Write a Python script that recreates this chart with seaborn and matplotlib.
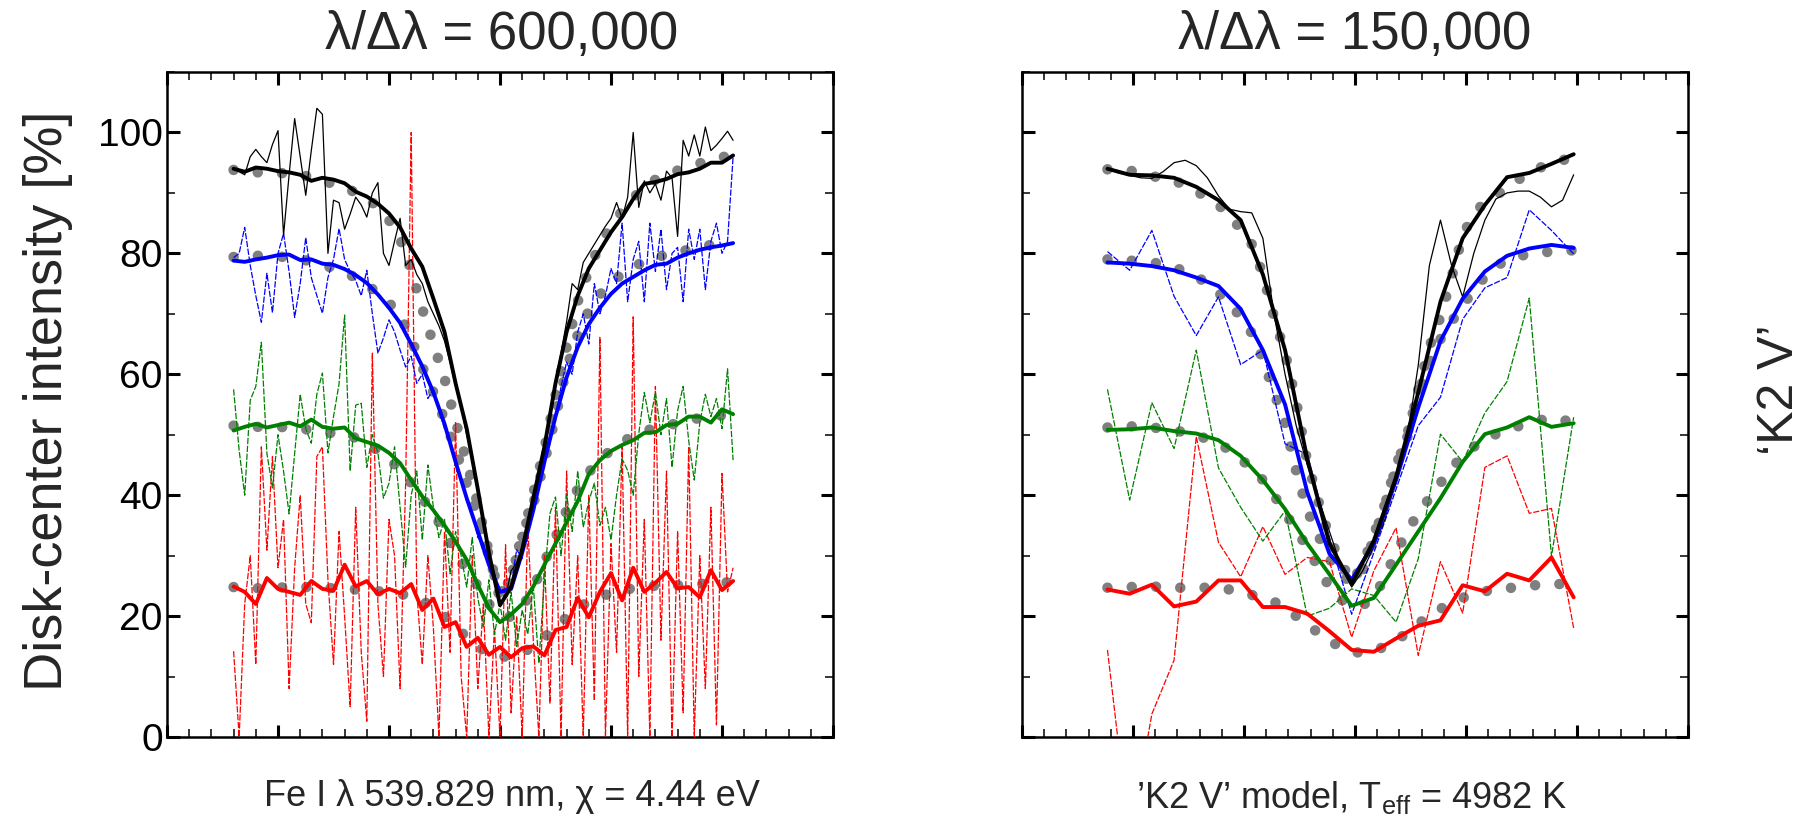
import numpy as np
import matplotlib
matplotlib.use("Agg")
import matplotlib.pyplot as plt
import seaborn as sns
from matplotlib.ticker import MultipleLocator

sns.set_theme(style="ticks")
plt.rcParams["font.family"] = ["Liberation Sans", "DejaVu Sans"]
plt.rcParams["mathtext.fontset"] = "custom"
plt.rcParams["mathtext.rm"] = "Liberation Sans"
plt.rcParams["mathtext.it"] = "Liberation Sans:italic"

# ---------------- left panel: lambda/dlambda = 600,000 ----------------
x_model_l = np.arange(-24.0, 21.01, 1.0)
x_thick_l = np.arange(-24.0, 21.01, 1.0)
x_thin_l = np.arange(-24.0, 21.01, 0.5)

model_black_l = [93.8, 93.6, 93.4, 93.4, 93.3, 93.2, 93.0, 92.6, 92.0, 91.5, 90.8, 90.1, 89.2, 87.6, 85.5, 82.4,
                 77.2, 70.8, 65.0, 59.3, 52.2, 45.5, 38.5, 30.5, 22.8, 26.5, 33.0, 40.3, 47.7, 56.5, 64.5, 72.0,
                 77.2, 81.5, 84.5, 87.0, 89.2, 90.8, 92.2, 93.0, 93.7, 94.3, 94.9, 95.4, 95.9, 96.3]
model_blue_l = [79.4, 79.5, 79.6, 79.6, 79.5, 79.3, 79.0, 78.7, 78.2, 77.5, 76.8, 76.0, 74.8, 73.4, 71.8, 69.8,
                65.8, 61.2, 57.0, 52.5, 47.5, 42.0, 36.5, 30.0, 23.5, 26.5, 33.5, 38.5, 45.5, 53.0, 61.0, 66.5,
                70.5, 73.2, 75.0, 76.7, 77.8, 78.6, 79.3, 79.8, 80.2, 80.6, 81.0, 81.4, 81.7, 82.0]
model_green_l = [51.5, 51.4, 51.3, 51.3, 51.3, 51.2, 51.0, 50.8, 50.5, 50.2, 49.9, 49.5, 48.6, 47.4, 45.9, 44.3,
                 42.0, 39.5, 37.0, 34.0, 30.5, 27.5, 25.0, 22.0, 20.3, 19.8, 21.5, 24.5, 29.0, 33.0, 37.5, 41.0,
                 43.8, 45.8, 47.5, 48.8, 49.8, 50.6, 51.1, 51.5, 51.9, 52.3, 52.8, 53.0, 53.2, 53.3]
model_red_l = [24.8, 24.7, 24.6, 24.6, 24.7, 24.8, 24.8, 24.8, 24.7, 24.6, 24.5, 24.4, 24.3, 24.1, 24.0, 23.7,
               23.2, 22.5, 21.5, 20.0, 18.2, 16.5, 14.9, 13.9, 13.3, 13.3, 13.9, 15.0, 16.5, 18.0, 19.8, 21.3,
               22.4, 23.2, 23.8, 24.3, 24.6, 24.9, 25.0, 25.1, 25.1, 25.2, 25.3, 25.4, 25.5, 25.7]

thick_black_l = [94.0, 93.5, 94.2, 94.0, 93.6, 93.4, 93.0, 92.0, 92.5, 92.2, 91.6, 90.2, 89.4, 88.2, 86.6, 84.3,
                 80.8, 77.8, 72.5, 67.0, 58.5, 51.0, 41.0, 30.5, 21.8, 24.8, 31.0, 39.5, 48.0, 58.5, 67.0, 73.0,
                 77.5, 80.5, 83.5, 86.0, 89.0, 91.5, 91.8, 92.3, 93.1, 93.4, 94.0, 95.0, 95.0, 96.2]
thick_blue_l = [78.8, 78.6, 79.0, 79.3, 79.7, 79.8, 78.9, 79.0, 78.3, 78.1, 77.4, 76.4, 75.1, 73.2, 71.0, 68.5,
                65.0, 61.3, 57.0, 51.8, 45.5, 39.5, 34.0, 28.5, 24.0, 24.5, 30.5, 37.5, 45.5, 53.0, 59.5, 64.5,
                68.3, 71.0, 73.3, 75.0, 76.1, 77.2, 78.1, 78.3, 79.3, 80.0, 80.6, 81.0, 81.3, 81.7]
thick_green_l = [50.7, 51.3, 51.8, 51.2, 51.6, 52.0, 51.4, 52.5, 51.3, 51.0, 51.2, 49.4, 48.8, 48.2, 47.0, 45.3,
                 42.5, 39.8, 37.5, 35.0, 32.3, 29.3, 25.2, 21.3, 19.0, 20.3, 22.0, 24.9, 28.5, 32.0, 35.5, 39.0,
                 43.5, 45.8, 47.3, 48.3, 49.1, 50.3, 50.4, 51.6, 51.8, 53.0, 53.0, 52.0, 54.2, 53.4]
thick_red_l = [24.9, 24.0, 22.0, 26.3, 24.5, 24.0, 23.5, 25.8, 24.5, 24.2, 28.5, 24.9, 25.8, 23.6, 24.5, 23.8,
               25.3, 21.0, 22.9, 18.2, 19.0, 14.9, 16.4, 13.6, 14.9, 13.2, 14.7, 15.0, 13.5, 17.7, 18.2, 23.0,
               19.8, 24.0, 27.1, 22.6, 28.0, 24.0, 25.5, 27.3, 24.6, 24.8, 23.1, 27.6, 24.3, 25.8]

thin_black_l = [94.0, 93.5, 93.0, 96.0, 97.2, 96.0, 95.0, 98.0, 100.3, 83.0,
                93.0, 102.3, 96.0, 89.6, 97.0, 104.0, 103.0, 80.0, 88.8, 88.4,
                84.0, 86.5, 89.3, 88.0, 86.0, 90.0, 91.7, 80.0, 78.0, 82.0,
                85.8, 78.0, 79.0, 76.5, 75.0, 72.0, 70.0, 68.0, 65.5, 62.0,
                58.0, 54.5, 50.0, 46.0, 40.5, 35.5, 30.5, 25.5, 22.0, 23.0,
                27.5, 28.8, 31.5, 35.0, 39.0, 43.5, 48.5, 53.5, 59.0, 63.5,
                68.7, 75.0, 74.0, 78.5, 80.0, 81.5, 83.0, 84.5, 85.8, 88.4,
                85.8, 89.3, 100.0, 87.6, 92.0, 90.0, 91.5, 88.8, 93.6, 92.5,
                82.8, 98.7, 96.1, 99.6, 96.1, 100.9, 97.0, 97.9, 99.0, 100.2,
                98.7]
thin_blue_l = [79.3, 80.0, 84.3, 78.0, 73.0, 68.6, 76.7, 70.2, 80.0, 83.3,
               77.0, 69.4, 75.0, 82.6, 76.0, 73.0, 70.1, 76.0, 79.0, 84.1,
               79.0, 77.0, 75.5, 73.0, 77.2, 70.0, 63.5, 66.0, 69.0, 67.0,
               64.0, 61.2, 63.0, 58.5, 60.0, 56.0, 57.5, 54.0, 51.0, 49.0,
               45.0, 43.0, 39.0, 37.0, 33.0, 32.0, 29.5, 27.0, 24.0, 24.5,
               25.0, 31.0, 29.5, 36.0, 40.0, 42.0, 46.0, 50.0, 52.5, 58.0,
               62.0, 60.0, 67.0, 70.0, 65.0, 75.0, 70.0, 73.0, 77.5, 75.0,
               85.0, 72.0, 79.0, 82.0, 72.0, 85.0, 77.0, 84.0, 74.0, 80.0,
               81.0, 72.0, 84.0, 79.0, 84.0, 74.0, 82.0, 85.0, 80.0, 82.0,
               96.0]
thin_green_l = [57.5, 47.4, 40.0, 55.7, 58.0, 65.3, 46.9, 41.2, 50.0, 44.0,
                36.9, 46.9, 56.7, 51.0, 48.6, 56.7, 60.2, 47.0, 53.0, 58.4,
                69.8, 44.0, 54.9, 55.2, 44.6, 50.0, 47.0, 39.5, 42.0, 48.0,
                38.0, 28.1, 40.0, 44.0, 32.6, 45.0, 38.0, 33.0, 36.0, 27.0,
                34.0, 30.0, 24.8, 33.0, 23.0, 18.2, 26.0, 17.0, 22.0, 16.0,
                24.0, 15.0, 21.0, 17.0, 25.0, 12.2, 26.0, 37.0, 39.7, 30.0,
                40.0, 34.0, 44.0, 34.7, 39.0, 42.0, 35.0, 38.0, 32.6, 40.0,
                46.0, 44.1, 40.0, 50.2, 57.0, 52.0, 57.0, 50.0, 56.0, 44.6,
                54.0, 58.0, 49.0, 42.5, 52.0, 56.7, 53.0, 56.0, 51.0, 60.9,
                45.8]
thin_red_l = [14.2, 0.0, 22.0, 30.0, 12.0, 48.0, 30.9, 46.4, 28.0, 36.0,
              8.0, 28.0, 40.0, 22.0, 18.9, 46.4, 48.0, 26.0, 12.0, 34.0,
              20.0, 5.0, 38.0, 14.0, 2.6, 63.5, 22.0, 10.0, 36.0, 30.0,
              8.0, 42.0, 100.0, 24.0, 12.0, 30.0, 18.0, 0.0, 34.0, 14.0,
              52.0, 10.0, 0.0, 30.0, 8.0, 22.0, 0.0, 18.0, 0.0, 31.8,
              4.0, 20.0, 0.0, 35.0, 16.0, 0.0, 30.0, 5.6, 38.0, 0.0,
              44.0, 12.0, 30.0, 0.0, 40.0, 6.0, 66.1, 0.0, 32.0, 14.0,
              48.0, 0.0, 69.5, 10.0, 36.0, 0.0, 58.0, 16.0, 44.0, 0.0,
              34.0, 4.0, 48.0, 0.0, 30.0, 8.0, 38.0, 2.0, 43.6, 24.0,
              28.0]

# ---------------- right panel: lambda/dlambda = 150,000 ----------------
x_model_r = np.arange(-22.3, 19.75, 1.0)
x_coarse_r = np.arange(-22.3, 19.75, 2.0)

model_black_r = [93.9, 93.8, 93.7, 93.3, 92.8, 92.4, 92.0, 91.3, 90.3, 89.2, 88.0, 86.3, 84.0, 81.5, 76.5,
                 69.5, 63.5, 55.5, 45.5, 39.0, 33.0, 29.0, 25.6, 28.5, 33.5, 38.5, 45.0, 49.5, 57.5, 64.5,
                 69.5, 76.0, 83.0, 86.5, 88.5, 89.6, 90.8, 92.2, 93.2, 94.2, 94.9, 95.4, 96.0]
model_blue_r = [79.0, 78.9, 78.8, 78.7, 78.5, 78.2, 77.7, 77.0, 76.2, 75.0, 73.5, 71.7, 69.5, 66.8, 62.5,
                57.0, 51.9, 44.0, 37.5, 33.3, 29.5, 26.8, 25.6, 27.5, 32.9, 38.5, 44.5, 50.0, 57.0, 62.0,
                65.8, 68.7, 71.3, 74.0, 76.1, 77.8, 79.0, 79.5, 79.9, 80.1, 80.3, 80.4, 80.5]
model_green_r = [51.2, 51.3, 51.4, 51.3, 51.2, 51.0, 50.7, 50.4, 49.9, 49.3, 48.5, 47.5, 46.0, 44.4, 42.5,
                 40.0, 37.0, 34.3, 31.3, 28.0, 24.8, 22.8, 21.7, 21.8, 23.0, 26.5, 30.5, 34.0, 37.0, 39.5,
                 42.0, 44.5, 46.5, 48.0, 49.2, 50.1, 50.8, 51.4, 51.9, 52.4, 52.8, 52.5, 51.9]
model_red_r = [24.7, 24.8, 24.8, 24.9, 24.9, 24.8, 24.7, 24.7, 24.7, 24.7, 24.6, 24.4, 24.0, 23.5, 23.0,
               22.4, 21.3, 20.0, 18.7, 17.2, 15.9, 14.9, 14.1, 13.9, 14.2, 15.0, 16.0, 17.2, 18.7, 20.1,
               21.2, 22.1, 23.0, 23.8, 24.1, 24.4, 24.6, 24.8, 25.0, 25.2, 25.3, 25.3, 25.3]

thick_black_r = [94.0, 93.0, 92.9, 92.5, 91.0, 88.8, 85.5, 76.5, 64.0, 46.0, 32.0, 25.3, 32.5, 43.0, 57.0,
                 72.0, 82.5, 88.0, 92.6, 93.3, 94.8, 96.4]
thick_blue_r = [78.5, 78.3, 77.9, 77.2, 76.0, 74.6, 70.8, 64.0, 55.0, 40.5, 30.3, 26.0, 32.0, 42.5, 54.5,
                65.5, 72.5, 77.0, 79.6, 80.8, 81.4, 80.9]
thick_green_r = [50.8, 50.9, 51.2, 50.6, 50.2, 49.1, 46.5, 42.5, 37.7, 32.0, 26.9, 21.7, 23.0, 28.5, 34.0,
                 39.5, 45.5, 50.1, 51.2, 52.9, 51.3, 51.9]
thick_red_r = [24.4, 23.7, 25.2, 21.6, 22.4, 25.9, 25.9, 21.5, 21.5, 20.4, 17.5, 14.4, 14.1, 16.3, 18.4,
               19.3, 25.1, 24.1, 27.0, 25.9, 29.7, 23.1]

thin_black_r = [94.0, 93.3, 92.9, 92.5, 92.4, 93.5, 95.0, 95.4, 94.5, 92.5, 89.5, 87.3, 86.9, 86.7, 82.5,
                70.0, 60.0, 51.5, 45.0, 39.5, 34.0, 28.5, 24.8, 27.5, 31.5, 36.0, 43.5, 49.5, 61.5, 78.0,
                85.5, 78.0, 72.8, 80.0, 85.5, 89.0, 90.0, 90.3, 90.3, 89.3, 87.7, 88.8, 93.0]
thin_blue_r = [80.3, 77.2, 83.8, 72.9, 66.4, 72.8, 61.6, 64.0, 48.5, 46.7, 33.0, 20.3, 30.5, 41.0, 51.5,
               56.2, 69.1, 74.3, 76.0, 87.2, 83.8, 79.9]
thin_green_r = [57.5, 39.2, 55.3, 47.7, 64.0, 44.5, 38.0, 32.4, 37.4, 20.0, 21.3, 24.5, 23.4, 19.0, 29.5,
                50.1, 45.5, 53.6, 58.8, 72.6, 29.9, 52.9]
thin_red_r = [14.4, -17.0, 3.8, 12.7, 49.7, 32.2, 26.5, 34.8, 26.9, 29.7, 29.0, 16.5, 27.5, 34.6, 13.5,
              29.0, 20.5, 44.6, 46.5, 37.0, 37.8, 18.0]

COLORS = {"black": "#000000", "blue": "#0000ff", "green": "#008000", "red": "#ff0000"}
GRAY = "#7f7f7f"


def line(ax, x, y, **kw):
    sns.lineplot(x=np.asarray(x), y=np.asarray(y), ax=ax, estimator=None, sort=False,
                 errorbar=None, legend=False, **kw)


def draw_panel(ax, x_model, models, thin_sets, thick_sets):
    # model profiles as thick round-dotted gray curves
    for y in models:
        line(ax, x_model, y, color=GRAY, linewidth=7.6, linestyle=(0, (0.001, 2.3)),
             dash_capstyle="round", zorder=2)
    # individual noisy profiles
    for name, (x, y) in thin_sets.items():
        style = "-" if name == "black" else (0, (5, 1.3))
        line(ax, x, y, color=COLORS[name], linewidth=0.9, linestyle=style, zorder=3)
    # averaged profiles
    for name, (x, y) in thick_sets.items():
        line(ax, x, y, color=COLORS[name], linewidth=2.8, zorder=4)

    ax.set_xlim(-30, 30)
    ax.set_ylim(0, 110)
    ax.xaxis.set_major_locator(MultipleLocator(10))
    ax.xaxis.set_minor_locator(MultipleLocator(2))
    ax.yaxis.set_major_locator(MultipleLocator(20))
    ax.yaxis.set_minor_locator(MultipleLocator(10))
    ax.tick_params(which="major", direction="in", length=9, width=2.2, top=True, right=True,
                   bottom=True, left=True, labelsize=28, pad=3, colors="black")
    ax.tick_params(which="minor", direction="in", length=5.5, width=1.3, top=True, right=True,
                   bottom=True, left=True)
    ax.tick_params(labelbottom=False)
    ax.set_xlabel("")
    ax.set_ylabel("")
    for sp in ax.spines.values():
        sp.set_linewidth(1.8)
        sp.set_color("black")
        sp.set_visible(True)
    ax.set_facecolor("white")


fig = plt.figure(figsize=(18.11, 8.14), dpi=100)
fig.patch.set_facecolor("white")
W, H = 1811.0, 814.0
ax_l = fig.add_axes([167 / W, 77 / H, 666 / W, 665 / H])
ax_r = fig.add_axes([1022 / W, 77 / H, 666 / W, 665 / H])

draw_panel(
    ax_l, x_model_l,
    [model_black_l, model_blue_l, model_green_l, model_red_l],
    {"red": (x_thin_l, thin_red_l), "green": (x_thin_l, thin_green_l),
     "blue": (x_thin_l, thin_blue_l), "black": (x_thin_l, thin_black_l)},
    {"red": (x_thick_l, thick_red_l), "green": (x_thick_l, thick_green_l),
     "blue": (x_thick_l, thick_blue_l), "black": (x_thick_l, thick_black_l)},
)
draw_panel(
    ax_r, x_model_r,
    [model_black_r, model_blue_r, model_green_r, model_red_r],
    {"red": (x_coarse_r, thin_red_r), "green": (x_coarse_r, thin_green_r),
     "blue": (x_coarse_r, thin_blue_r), "black": (x_model_r, thin_black_r)},
    {"red": (x_coarse_r, thick_red_r), "green": (x_coarse_r, thick_green_r),
     "blue": (x_coarse_r, thick_blue_r), "black": (x_coarse_r, thick_black_r)},
)
ax_r.tick_params(labelleft=False)

fig.text(502 / W, 1 - 35 / H, "λ/Δλ = 600,000", ha="center", va="center", fontsize=38)
fig.text(1355 / W, 1 - 35 / H, "λ/Δλ = 150,000", ha="center", va="center", fontsize=38)
fig.text(48 / W, 1 - 401 / H, "Disk-center intensity [%]", rotation=90, ha="center", va="center",
         fontsize=39)
fig.text(512 / W, 1 - 797 / H, "Fe I λ 539.829 nm, χ = 4.44 eV", ha="center", va="center", fontsize=26)
fig.text(1352 / W, 1 - 797 / H, "’K2 V’ model, T$_{\\rm eff}$ = 4982 K", ha="center", va="center",
         fontsize=26)
fig.text(1780 / W, 1 - 390 / H, "‘K2 V’", rotation=90, ha="center", va="center", fontsize=36)

fig.savefig("out.png", dpi=100, facecolor="white")
